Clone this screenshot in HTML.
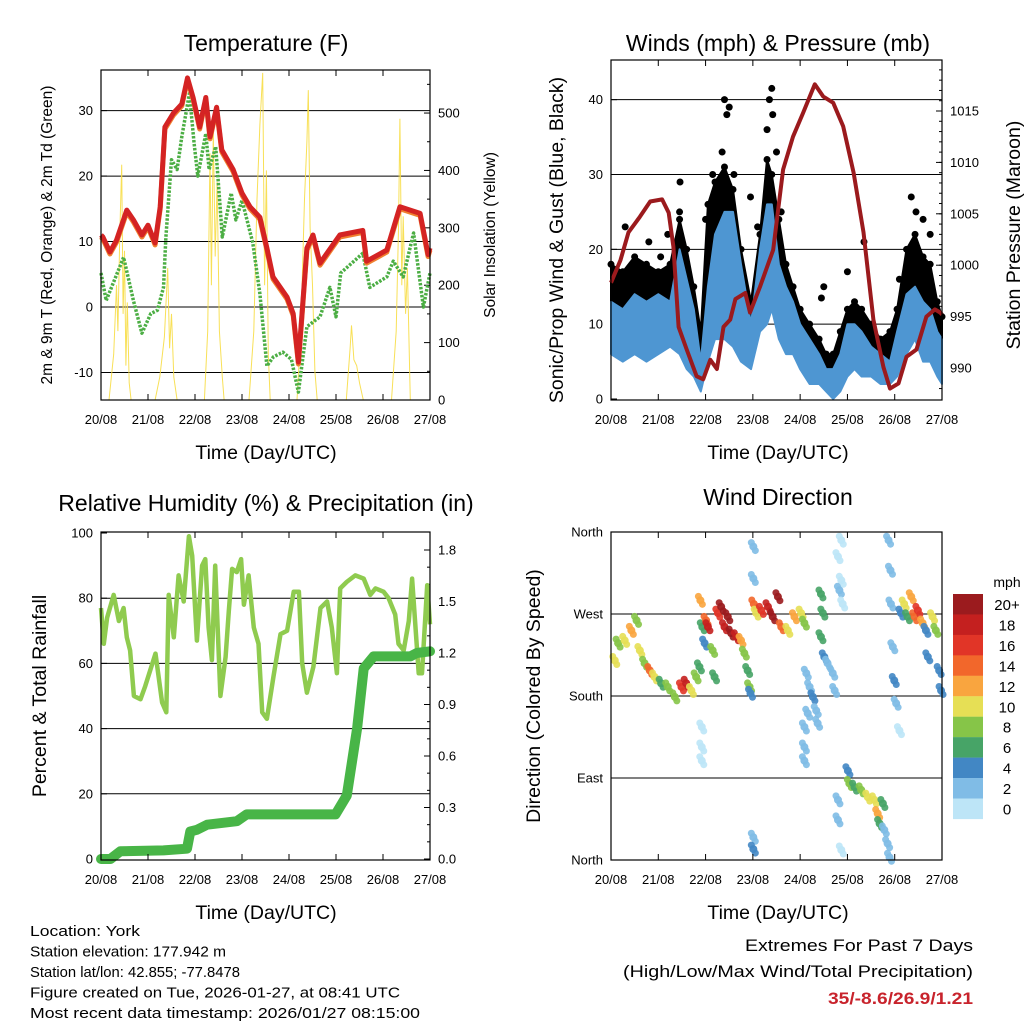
<!DOCTYPE html>
<html><head><meta charset="utf-8"><style>
body{margin:0;background:#fff}
svg{display:block;font-family:"Liberation Sans",sans-serif}
</style></head><body>
<svg id="chart" width="1024" height="1024" viewBox="0 0 1024 1024"></svg>
<script>
// ---------- DATA ----------
const dayLabels=["20/08","21/08","22/08","23/08","24/08","25/08","26/08","27/08"];
// Temperature (F)
const tempT=[0,0.04,0.19,0.33,0.55,0.69,0.87,1.0,1.15,1.26,1.36,1.54,1.72,1.84,1.96,2.1,2.23,2.32,2.46,2.57,2.81,3.0,3.17,3.38,3.53,3.66,3.96,4.09,4.2,4.38,4.51,4.66,5.08,5.57,5.65,6.08,6.36,6.79,6.96,7.0];
const tempV=[11,10.7,8.4,10.2,14.8,13.3,11,12.5,9.8,15.3,27.5,29.6,31,35,32,27.5,32,26,30.5,24,21,17.4,15.3,13.7,9,4.6,1.5,-1,-8.4,9,11,6.7,11,11.7,7,8.7,15.3,14.3,8,9];
const dewT=[0,0.11,0.48,0.69,0.87,1.06,1.2,1.33,1.38,1.5,1.62,1.72,1.88,1.98,2.06,2.23,2.3,2.44,2.58,2.77,2.87,3.0,3.23,3.38,3.53,3.67,3.87,4.05,4.2,4.38,4.66,4.87,5.0,5.1,5.57,5.72,6.08,6.22,6.43,6.65,6.86,7.0];
const dewV=[5.2,1,7.6,1,-4,-1,-0.5,3,10.7,22.5,21,26,32.6,25,20,26.5,21,24.5,10.7,17.4,13.3,16.3,9.8,2,-9,-7.6,-6.9,-8,-13,-3,-1.5,3,-1.5,5.2,8.2,3,4.6,7,4.6,11.3,0,5.2];
const solarT=[0,0.17,0.27,0.33,0.36,0.4,0.44,0.47,0.5,0.53,0.56,0.6,0.64,1.15,1.25,1.35,1.42,1.46,1.5,1.55,1.62,2.2,2.27,2.32,2.35,2.39,2.43,2.47,2.52,2.58,2.62,3.15,3.25,3.32,3.38,3.44,3.48,3.52,3.56,3.6,4.17,4.25,4.33,4.38,4.41,4.45,4.5,4.55,4.6,5.22,5.3,5.33,5.38,5.44,5.5,5.58,6.18,6.28,6.33,6.36,6.4,6.43,6.48,6.52,6.58,7.0];
const solarV=[0,0,80,200,120,290,410,150,260,60,170,30,0,0,40,110,230,90,150,40,0,0,120,430,200,470,250,380,120,40,0,0,120,350,480,570,200,400,80,0,0,120,350,450,540,300,200,50,0,0,90,130,70,60,30,0,0,120,300,490,200,320,150,230,0,0];
// Winds (mph) & pressure (mb)
const windT=[0,0.25,0.5,0.75,1.0,1.25,1.45,1.6,1.75,1.9,2.05,2.2,2.4,2.58,2.75,2.96,3.15,3.3,3.4,3.55,3.7,3.85,4.0,4.2,4.4,4.55,4.7,4.85,5.0,5.15,5.3,5.5,5.7,5.9,6.05,6.25,6.43,6.6,6.75,6.9,7.0];
const windLo=[6,5,6,5,6,7,6,4,3,1,5,8,8,7,5,4,9,10,12,8,6,6,4,2,2,1,0,1,3,4,3,3,2,2,3,6,8,5,5,3,2];
const windHi=[13,12,14,13,14,13,20,16,12,5,15,22,25,25,18,10,20,26,26,18,15,13,10,8,6,4,4,6,10,10,9,7,6,5,9,14,15,13,12,9,8];
const gustBand=[18,17,19,18,17,18,24,20,15,9,26,29,31,28,20,13,22,32,30,24,18,15,12,10,8,6,6,9,12,13,12,10,8,9,12,20,22,19,18,13,11];
const gustPeakT=[0.3,0.8,1.2,1.45,1.46,2.0,2.15,2.4,2.45,2.5,2.35,3.35,3.4,3.3,3.42,2.95,3.5,4.5,4.45,5.35,6.35,6.45,6.75,6.1,1.05,2.6,3.1,3.6,5.0,6.6];
const gustPeakV=[23,21,22,25,29,24,30,40,38,39,33,40,41.5,36,38,27,33,15,13.5,21,27,25,22,16,19,30,23,25,17,24];
const presT=[0,0.2,0.37,0.61,0.83,1.08,1.22,1.32,1.43,1.6,1.81,1.95,2.1,2.24,2.38,2.52,2.63,2.84,2.94,3.15,3.43,3.64,3.85,4.06,4.31,4.49,4.7,4.91,5.13,5.34,5.55,5.76,5.9,6.08,6.25,6.46,6.67,6.85,6.96,7.0];
const presV=[998.3,1000.5,1003.2,1004.7,1006.2,1006.4,1005.1,1001.8,994,991.8,989.2,988.9,990.8,989.9,994,994.7,996.7,997.3,995.4,997.9,1001.5,1009.3,1012.5,1014.8,1017.6,1016.4,1015.8,1013.5,1009,1003.2,994.7,990.1,988,988.5,991.1,991.8,995,995.7,995.4,995.2];
// Relative humidity (%) & precipitation (in)
const rhT=[0,0.06,0.13,0.27,0.38,0.48,0.55,0.62,0.70,0.84,0.94,1.16,1.30,1.39,1.44,1.55,1.65,1.76,1.87,1.94,2.04,2.15,2.22,2.29,2.36,2.43,2.54,2.65,2.72,2.79,2.89,2.98,3.04,3.14,3.25,3.35,3.43,3.53,3.67,3.82,3.96,4.10,4.21,4.28,4.38,4.52,4.67,4.81,4.91,5.02,5.09,5.23,5.41,5.59,5.73,5.84,6.01,6.12,6.26,6.33,6.44,6.55,6.62,6.76,6.83,6.94,7.0];
const rhV=[77,66,74,81,73,77,68,64,50,49,53,63,48,45,81,68,87,79,99,93,67,90,92,71,61,90,50,62,76,89,88,92,78,87,71,66,45,43,56,69,70,82,82,60,51,59,77,79,71,57,83,85,87,86,81,83,82,80,75,66,64,73,86,57,57,84,72];
const pcpT=[0,0.2,0.41,1.33,1.83,1.9,2.04,2.26,2.89,3.1,4.99,5.23,5.45,5.59,5.8,6.58,6.72,7.0];
const pcpV=[0,0,0.045,0.05,0.06,0.16,0.17,0.2,0.22,0.26,0.26,0.37,0.76,1.11,1.18,1.18,1.2,1.21];
// Wind direction (deg) colored by speed (mph)
const dirT=[0.08,0.15,0.29,0.43,0.54,0.61,0.71,0.82,0.92,1.06,1.2,1.35,1.49,1.59,1.7,1.8,1.87,1.89,1.93,1.98,2.01,2.05,2.15,2.19,2.26,2.33,2.4,2.47,2.54,2.65,2.75,2.82,2.89,2.93,2.95,1.92,1.92,1.92,3.01,3.01,3.02,3.07,3.18,3.32,3.42,3.53,3.6,3.74,3.88,4.02,4.09,4.13,4.2,4.27,4.34,4.37,4.16,4.09,4.44,4.48,4.44,4.51,4.58,4.69,4.73,4.8,4.87,4.87,4.83,4.9,5.01,5.04,5.15,5.29,5.43,5.57,5.64,5.68,5.75,5.78,5.85,5.89,4.8,4.8,4.87,5.87,5.91,5.92,5.96,5.99,6.03,6.1,6.13,6.2,6.27,6.35,6.42,6.49,6.59,6.66,6.7,6.8,6.87,6.94,6.98,3.01,3.01,4.09,4.09];
const dirV=[219,238,241,252,263,230,216,208,201,194,190,179,190,194,186,201,212,285,256,238,263,256,230,201,271,278,256,267,249,245,241,227,208,190,183,146,124,109,344,309,281,271,274,278,267,289,256,252,267,271,260,205,190,179,164,150,161,124,292,271,245,223,216,205,186,333,351,307,296,281,98,84,80,77,69,66,51,40,62,33,18,3,66,44,11,351,318,281,234,197,172,142,271,281,267,289,267,274,260,252,223,267,252,208,186,25,12,146,109];
const dirS=[10,8,10,12,8,10,8,14,10,6,8,8,16,18,10,8,6,12,6,4,14,18,8,6,16,20,18,20,20,18,12,8,6,8,4,1,1,1,3,3,14,10,16,18,20,20,14,10,12,10,8,3,3,4,3,3,2,2,7,6,6,4,2,2,2,1,1,1,2,1,4,8,6,8,10,10,12,6,6,3,2,2,2,2,1,3,2,3,3,4,2,1,4,10,6,12,14,16,12,4,4,10,8,4,4,3,4,2,2];
const cbLabels=["20+","18","16","14","12","10","8","6","4","2","0"];
const cbColors=["#9b1b1e","#c4201f","#e13527","#f2672b","#f9a53f","#e6df55","#86c548","#47a467","#4287c4","#80bce6","#bde5f7"];

// ---------- HELPERS ----------
const NS="http://www.w3.org/2000/svg";
const svg=document.getElementById('chart');
function el(tag,attrs,parent,txt){const e=document.createElementNS(NS,tag);for(const k in attrs)e.setAttribute(k,attrs[k]);if(txt!==undefined)e.textContent=txt;(parent||svg).appendChild(e);return e;}
function lin(d0,d1,r0,r1){return v=>r0+(v-d0)*(r1-r0)/(d1-d0);}
function pts(T,V,sx,sy){return T.map((t,i)=>sx(t).toFixed(1)+","+sy(V[i]).toFixed(1)).join(" ");}
function band(T,Hi,Lo,sx,sy){return pts(T,Hi,sx,sy)+" "+T.slice().reverse().map((t,i)=>sx(t).toFixed(1)+","+sy(Lo[T.length-1-i]).toFixed(1)).join(" ");}

function frame(g,x0,x1,y0,y1,sx,xLabelY){
  el('rect',{x:x0,y:y0,width:x1-x0,height:y1-y0,fill:'none',stroke:'#000','stroke-width':1.2},g);
  for(let i=0;i<dayLabels.length;i++){
    const x=sx(i);
    el('line',{x1:x,x2:x,y1:y1,y2:y1-6,stroke:'#000'},g);
    el('line',{x1:x,x2:x,y1:y0,y2:y0+6,stroke:'#000'},g);
    const t=el('text',{x:x,y:xLabelY,'text-anchor':'middle','font-size':13},g,dayLabels[i]);
    
    
  }
}
function yTicks(g,ticks,sy,x,side,labels,grid,x0,x1,fs){
  ticks.forEach((v,i)=>{
    const y=sy(v);
    if(grid) el('line',{x1:x0,x2:x1,y1:y,y2:y,stroke:'#000','stroke-width':1},g);
    el('line',{x1:x,x2:side<0?x+6:x-6,y1:y,y2:y,stroke:'#000'},g);
    const t=el('text',{x:side<0?x-8:x+8,y:y+4.5,'text-anchor':side<0?'end':'start','font-size':fs||13},g,labels[i]);
    
    
  });
}
function label(g,txt,x,y,fs,rot,name){
  const t=el('text',{x:x,y:y,'text-anchor':'middle','font-size':fs,transform:rot?`rotate(${rot} ${x} ${y})`:''},g,txt);
  
  
  return t;
}

// ---------- PANEL 1: TEMPERATURE ----------
(function(){
  const g=el('g',{});
  
  
  const x0=101,x1=430,y0=70,y1=400;
  const sx=lin(0,7,x0,x1), sy=lin(-14.2,36.2,y1,y0), ss=lin(0,575,y1,y0);
  yTicks(g,[-10,0,10,20,30],sy,x0,-1,["-10","0","10","20","30"],true,x0,x1);
  yTicks(g,[0,100,200,300,400,500],ss,x1,1,["0","100","200","300","400","500"],false);
  for(let v=50;v<575;v+=100){const y=ss(v);el('line',{x1:x1,x2:x1-3,y1:y,y2:y,stroke:'#000'},g);}
  const sol=el('polyline',{points:pts(solarT,solarV,sx,ss),fill:'none',stroke:'#f7dd45','stroke-width':1,opacity:0.9},g);
  
  const dew=el('polyline',{points:pts(dewT,dewV,sx,sy),fill:'none',stroke:'#4cae44','stroke-width':3.5,'stroke-dasharray':'2.5 1.5','stroke-linejoin':'round'},g);
  
  const t9=el('polyline',{points:pts(tempT,tempV,sx,v=>sy(v)+2),fill:'none',stroke:'#f08030','stroke-width':5,'stroke-linejoin':'round'},g);
  
  const t2=el('polyline',{points:pts(tempT,tempV,sx,sy),fill:'none',stroke:'#d42323','stroke-width':5,'stroke-linejoin':'round'},g);
  
  frame(g,x0,x1,y0,y1,sx,424);
  label(g,'Temperature (F)',266,51,23,0,'temperature-title');
  label(g,'2m & 9m T (Red, Orange) & 2m Td (Green)',52,235,15.5,-90,'temperature-y-axis-title');
  label(g,'Solar Insolation (Yellow)',495,235,15.5,-90,'solar-y-axis-title');
  label(g,'Time (Day/UTC)',266,459,19.5,0,'temperature-x-axis-title');
})();

// ---------- PANEL 2: WINDS ----------
(function(){
  const g=el('g',{});
  
  
  const x0=611,x1=942,y0=60,y1=400;
  const sx=lin(0,7,x0,x1), sy=lin(0,45.3,399,y0), sp=lin(990,1015,368,111);
  yTicks(g,[10,20,30,40],sy,x0,-1,["10","20","30","40"],true,x0,x1);
  yTicks(g,[0],sy,x0,-1,["0"],false);
  yTicks(g,[990,995,1000,1005,1010,1015],sp,x1,1,["990","995","1000","1005","1010","1015"],false);
  for(let v=988;v<1020;v+=1){const y=sp(v);if(y>y0&&y<y1)el('line',{x1:x1,x2:x1-3,y1:y,y2:y,stroke:'#000'},g);}
  const gp=el('polygon',{points:band(windT,gustBand,windHi,sx,sy),fill:'#000',stroke:'#000','stroke-width':2,'stroke-linejoin':'round'},g);
  
  windT.forEach((t,i)=>{
    const c=el('circle',{cx:sx(t),cy:sy(gustBand[i]),r:3.5,fill:'#000'},g);
    
    
  });
  gustPeakT.forEach((t,i)=>{
    const c=el('circle',{cx:sx(t),cy:sy(gustPeakV[i]),r:3.5,fill:'#000'},g);
    
    
  });
  const wp=el('polygon',{points:band(windT,windHi,windLo,sx,sy),fill:'#4e96d2',stroke:'#4e96d2','stroke-width':2,'stroke-linejoin':'round'},g);
  
  const pl=el('polyline',{points:pts(presT,presV,sx,sp),fill:'none',stroke:'#9b1a1d','stroke-width':4,'stroke-linejoin':'round'},g);
  
  frame(g,x0,x1,y0,y1,sx,424);
  label(g,'Winds (mph) & Pressure (mb)',778,51,23,0,'winds-title');
  label(g,'Sonic/Prop Wind & Gust (Blue, Black)',563,240,19.5,-90,'wind-y-axis-title');
  label(g,'Station Pressure (Maroon)',1020,235,19.5,-90,'pressure-y-axis-title');
  label(g,'Time (Day/UTC)',778,459,19.5,0,'winds-x-axis-title');
})();

// ---------- PANEL 3: RH & PRECIP ----------
(function(){
  const g=el('g',{});
  
  
  const x0=101,x1=430,y0=532,y1=860;
  const sx=lin(0,7,x0,x1), sy=lin(0,100,859,533), sr=lin(0,0.3,859,807.5);
  yTicks(g,[20,40,60,80],sy,x0,-1,["20","40","60","80"],true,x0,x1);
  yTicks(g,[0,100],sy,x0,-1,["0","100"],false);
  yTicks(g,[0,0.3,0.6,0.9,1.2,1.5,1.8],sr,x1,1,["0.0","0.3","0.6","0.9","1.2","1.5","1.8"],false);
  for(let v=0.1;v<1.9;v+=0.1){const y=sr(v);el('line',{x1:x1,x2:x1-3,y1:y,y2:y,stroke:'#000'},g);}
  const rh=el('polyline',{points:pts(rhT,rhV,sx,sy),fill:'none',stroke:'#8fcb4f','stroke-width':4.5,'stroke-linejoin':'round'},g);
  
  const pc=el('polyline',{points:pts(pcpT,pcpV,sx,sr),fill:'none',stroke:'#48b547','stroke-width':10,'stroke-linejoin':'round','stroke-linecap':'round'},g);
  
  frame(g,x0,x1,y0,y1,sx,884);
  label(g,'Relative Humidity (%) & Precipitation (in)',266,511,23,0,'humidity-title');
  label(g,'Percent & Total Rainfall',46,696,19.5,-90,'humidity-y-axis-title');
  label(g,'Time (Day/UTC)',266,919,19.5,0,'humidity-x-axis-title');
})();

// ---------- PANEL 4: WIND DIRECTION ----------
(function(){
  const g=el('g',{});
  
  
  const x0=611,x1=942,y0=532,y1=860;
  const sx=lin(0,7,x0,x1), sy=lin(0,360,860,532);
  yTicks(g,[90,180,270],sy,x0,-1,["East","South","West"],true,x0,x1);
  yTicks(g,[0,360],sy,x0,-1,["North","North"],false);
  dirT.forEach((t,i)=>{
    const bin=Math.min(10,Math.floor(dirS[i]/2));
    const col=cbColors[10-bin];
    const c=el('circle',{cx:sx(t),cy:sy(dirV[i]),r:4,fill:col,opacity:0.95},g);
    
    
    el('circle',{cx:sx(t)+2,cy:sy(dirV[i])+4,r:3.5,fill:col,opacity:0.9},g);
    el('circle',{cx:sx(t)-2,cy:sy(dirV[i])-4,r:3.5,fill:col,opacity:0.9},g);
  });
  frame(g,x0,x1,y0,y1,sx,884);
  label(g,'Wind Direction',778,505,23,0,'wind-direction-title');
  label(g,'Direction (Colored By Speed)',540,696,19.5,-90,'direction-y-axis-title');
  label(g,'Time (Day/UTC)',778,919,19.5,0,'direction-x-axis-title');
  const cb=el('g',{},g);
  
  
  label(cb,'mph',1007,587,14,0,'colorbar-title');
  cbLabels.forEach((lb,i)=>{
    const y=594+i*20.45;
    const r=el('rect',{x:953,y:y,width:30,height:20.6,fill:cbColors[i]},cb);
    
    
    label(cb,lb,1007,y+16,15,0,'colorbar-label');
  });
})();

// ---------- FOOTER TEXT ----------
(function(){
  const g=el('g',{});
  
  
  const lines=["Location: York","Station elevation: 177.942 m","Station lat/lon: 42.855; -77.8478","Figure created on Tue, 2026-01-27, at 08:41 UTC","Most recent data timestamp: 2026/01/27 08:15:00"];
  const widths=[110,196,210,370,390];
  lines.forEach((s,i)=>{
    const t=el('text',{x:30,y:936+i*20.5,'font-size':15,textLength:widths[i],lengthAdjust:'spacingAndGlyphs'},g,s);
    
    
  });
  const g2=el('g',{});
  
  
  const a=el('text',{x:973,y:951,'font-size':17,'text-anchor':'end',textLength:228,lengthAdjust:'spacingAndGlyphs'},g2,'Extremes For Past 7 Days');
  
  const b=el('text',{x:973,y:977,'font-size':17,'text-anchor':'end',textLength:350,lengthAdjust:'spacingAndGlyphs'},g2,'(High/Low/Max Wind/Total Precipitation)');
  
  const c=el('text',{x:973,y:1004,'font-size':17,'font-weight':'bold','text-anchor':'end',fill:'#c8232c',textLength:145,lengthAdjust:'spacingAndGlyphs'},g2,'35/-8.6/26.9/1.21');
  
})();
</script>
</body></html>
